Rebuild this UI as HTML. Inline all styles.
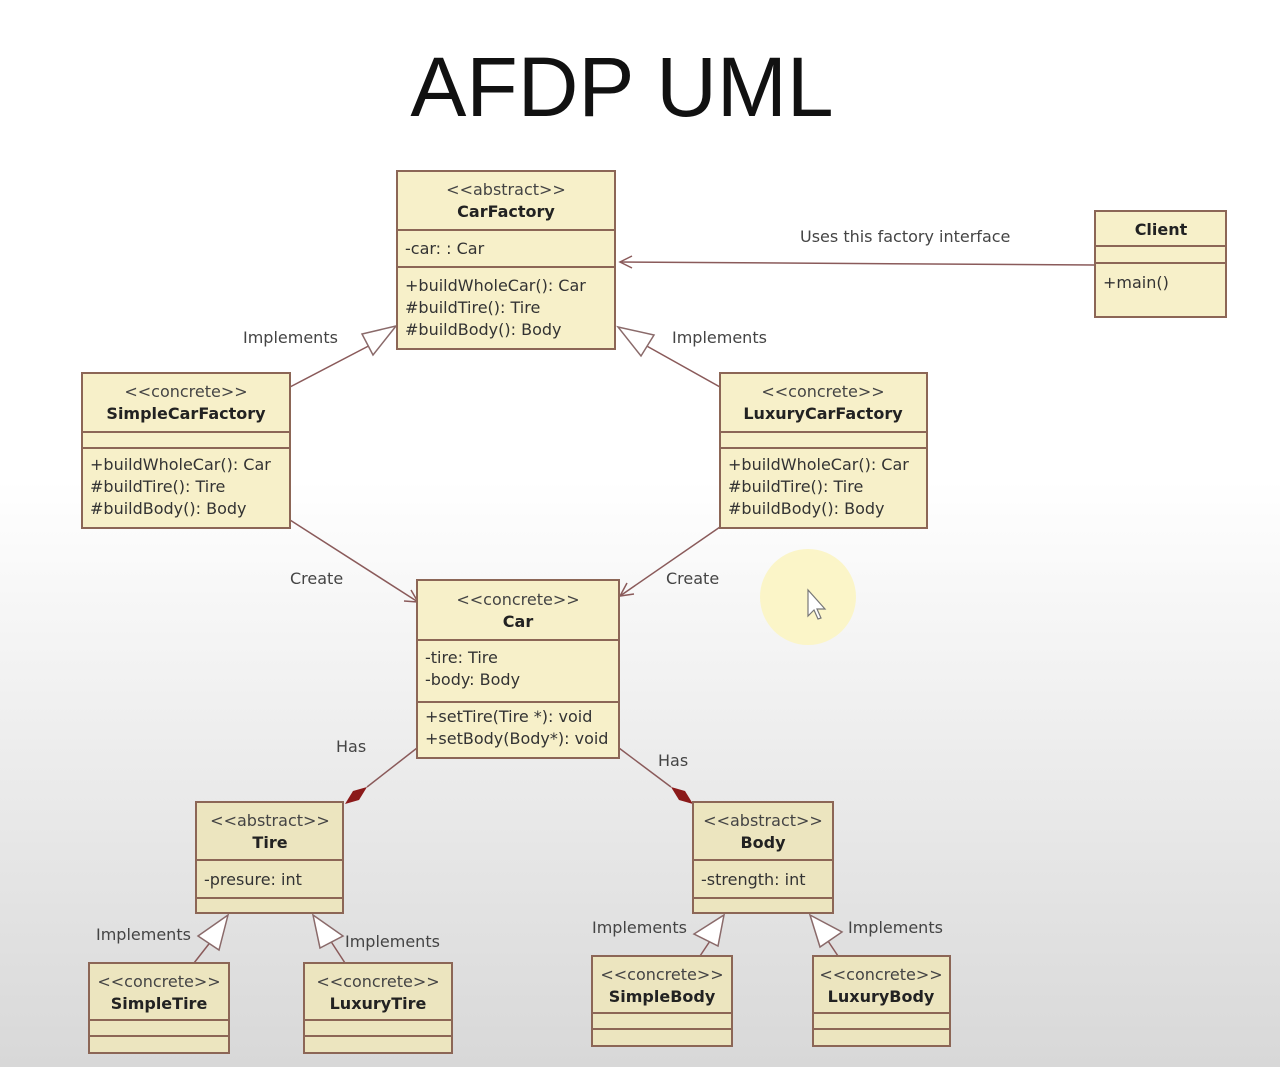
<!DOCTYPE html>
<html><head><meta charset="utf-8"><style>
html,body{margin:0;padding:0;width:1280px;height:1067px;overflow:hidden}
body{background:linear-gradient(#fff 0px,#fff 480px,#ececec 760px,#d8d8d8 1067px);font-family:"Liberation Sans","DejaVu Sans",sans-serif}
svg{position:absolute;left:0;top:0}
.b{fill:#f7f0c9;stroke:#8c6656;stroke-width:2}
.b2{fill:#ece5bf;stroke:#8c6656;stroke-width:2}
.l{stroke:#8c6656;stroke-width:2}
.c{stroke:#8a5a5a;stroke-width:1.5;fill:none}
.tr{fill:#fff;stroke:#8a6a6a;stroke-width:1.5}
text{font-family:"DejaVu Sans","Liberation Sans",sans-serif;font-size:16px;fill:#333}
.s{fill:#444;text-anchor:middle}
.n{font-weight:bold;text-anchor:middle;fill:#222}
.lb{fill:#444;font-size:16px}
</style></head><body>
<svg width="1280" height="1067" viewBox="0 0 1280 1067">
<circle cx="808" cy="597" r="48" fill="#fbf5c8"/>
<path d="M808 590 l0 26 l6 -6 l4 9 l3 -1 l-4 -9 l8 0 z" fill="#fff" stroke="#777" stroke-width="1.2"/>
<text x="622" y="116" style="font-family:'Liberation Sans',sans-serif;font-size:84px;fill:#111" text-anchor="middle">AFDP UML</text>

<line class="c" x1="1095" y1="265" x2="620" y2="262"/>
<path class="c" d="M632 256 L620 262 L632 268"/>
<text class="lb" x="800" y="242">Uses this factory interface</text>

<line class="c" x1="290" y1="387" x2="380" y2="340"/>
<polygon class="tr" points="396,326 373,355 362,334"/>
<text class="lb" x="243" y="343">Implements</text>
<line class="c" x1="720" y1="387" x2="636" y2="340"/>
<polygon class="tr" points="618,327 654,335 641,356"/>
<text class="lb" x="672" y="343">Implements</text>

<line class="c" x1="290" y1="520" x2="418" y2="602"/>
<path class="c" d="M404 601 L418 602 L411 590"/>
<text class="lb" x="290" y="584">Create</text>
<line class="c" x1="720" y1="527" x2="620" y2="596"/>
<path class="c" d="M627 583 L620 596 L634 594"/>
<text class="lb" x="666" y="584">Create</text>

<line class="c" x1="417" y1="748" x2="367" y2="787"/>
<polygon points="345,804 353,791 367,787 359,800" fill="#8b1a1a"/>
<text class="lb" x="336" y="752">Has</text>
<line class="c" x1="619" y1="748" x2="671" y2="787"/>
<polygon points="693,804 685,791 671,787 679,800" fill="#8b1a1a"/>
<text class="lb" x="658" y="766">Has</text>

<line class="c" x1="194" y1="963" x2="212" y2="940"/>
<polygon class="tr" points="228,915 219,950 198,936"/>
<text class="lb" x="96" y="940">Implements</text>
<line class="c" x1="345" y1="963" x2="330" y2="940"/>
<polygon class="tr" points="313,915 343,936 320,948"/>
<text class="lb" x="345" y="947">Implements</text>
<line class="c" x1="700" y1="956" x2="712" y2="938"/>
<polygon class="tr" points="724,915 718,946 694,934"/>
<text class="lb" x="592" y="933">Implements</text>
<line class="c" x1="838" y1="956" x2="826" y2="938"/>
<polygon class="tr" points="810,915 842,932 820,947"/>
<text class="lb" x="848" y="933">Implements</text>

<rect class="b" x="397" y="171" width="218" height="178"/>
<line class="l" x1="397" y1="230" x2="615" y2="230"/><line class="l" x1="397" y1="267" x2="615" y2="267"/>
<text class="s" x="506" y="195">&lt;&lt;abstract&gt;&gt;</text>
<text class="n" x="506" y="217">CarFactory</text>
<text x="405" y="254">-car: : Car</text>
<text x="405" y="291">+buildWholeCar(): Car</text>
<text x="405" y="313">#buildTire(): Tire</text>
<text x="405" y="335">#buildBody(): Body</text>

<rect class="b" x="1095" y="211" width="131" height="106"/>
<line class="l" x1="1095" y1="246" x2="1226" y2="246"/><line class="l" x1="1095" y1="263" x2="1226" y2="263"/>
<text class="n" x="1161" y="235">Client</text>
<text x="1103" y="288">+main()</text>

<rect class="b" x="82" y="373" width="208" height="155"/>
<line class="l" x1="82" y1="432" x2="290" y2="432"/><line class="l" x1="82" y1="448" x2="290" y2="448"/>
<text class="s" x="186" y="397">&lt;&lt;concrete&gt;&gt;</text>
<text class="n" x="186" y="419">SimpleCarFactory</text>
<text x="90" y="470">+buildWholeCar(): Car</text>
<text x="90" y="492">#buildTire(): Tire</text>
<text x="90" y="514">#buildBody(): Body</text>

<rect class="b" x="720" y="373" width="207" height="155"/>
<line class="l" x1="720" y1="432" x2="927" y2="432"/><line class="l" x1="720" y1="448" x2="927" y2="448"/>
<text class="s" x="823" y="397">&lt;&lt;concrete&gt;&gt;</text>
<text class="n" x="823" y="419">LuxuryCarFactory</text>
<text x="728" y="470">+buildWholeCar(): Car</text>
<text x="728" y="492">#buildTire(): Tire</text>
<text x="728" y="514">#buildBody(): Body</text>

<rect class="b" x="417" y="580" width="202" height="178"/>
<line class="l" x1="417" y1="640" x2="619" y2="640"/><line class="l" x1="417" y1="702" x2="619" y2="702"/>
<text class="s" x="518" y="605">&lt;&lt;concrete&gt;&gt;</text>
<text class="n" x="518" y="627">Car</text>
<text x="425" y="663">-tire: Tire</text>
<text x="425" y="685">-body: Body</text>
<text x="425" y="722">+setTire(Tire *): void</text>
<text x="425" y="744">+setBody(Body*): void</text>

<rect class="b2" x="196" y="802" width="147" height="111"/>
<line class="l" x1="196" y1="860" x2="343" y2="860"/><line class="l" x1="196" y1="898" x2="343" y2="898"/>
<text class="s" x="270" y="826">&lt;&lt;abstract&gt;&gt;</text>
<text class="n" x="270" y="848">Tire</text>
<text x="204" y="885">-presure: int</text>

<rect class="b2" x="693" y="802" width="140" height="111"/>
<line class="l" x1="693" y1="860" x2="833" y2="860"/><line class="l" x1="693" y1="898" x2="833" y2="898"/>
<text class="s" x="763" y="826">&lt;&lt;abstract&gt;&gt;</text>
<text class="n" x="763" y="848">Body</text>
<text x="701" y="885">-strength: int</text>

<rect class="b2" x="89" y="963" width="140" height="90"/>
<line class="l" x1="89" y1="1020" x2="229" y2="1020"/><line class="l" x1="89" y1="1036" x2="229" y2="1036"/>
<text class="s" x="159" y="987">&lt;&lt;concrete&gt;&gt;</text>
<text class="n" x="159" y="1009">SimpleTire</text>

<rect class="b2" x="304" y="963" width="148" height="90"/>
<line class="l" x1="304" y1="1020" x2="452" y2="1020"/><line class="l" x1="304" y1="1036" x2="452" y2="1036"/>
<text class="s" x="378" y="987">&lt;&lt;concrete&gt;&gt;</text>
<text class="n" x="378" y="1009">LuxuryTire</text>

<rect class="b2" x="592" y="956" width="140" height="90"/>
<line class="l" x1="592" y1="1013" x2="732" y2="1013"/><line class="l" x1="592" y1="1029" x2="732" y2="1029"/>
<text class="s" x="662" y="980">&lt;&lt;concrete&gt;&gt;</text>
<text class="n" x="662" y="1002">SimpleBody</text>

<rect class="b2" x="813" y="956" width="137" height="90"/>
<line class="l" x1="813" y1="1013" x2="950" y2="1013"/><line class="l" x1="813" y1="1029" x2="950" y2="1029"/>
<text class="s" x="881" y="980">&lt;&lt;concrete&gt;&gt;</text>
<text class="n" x="881" y="1002">LuxuryBody</text>
</svg>
</body></html>
